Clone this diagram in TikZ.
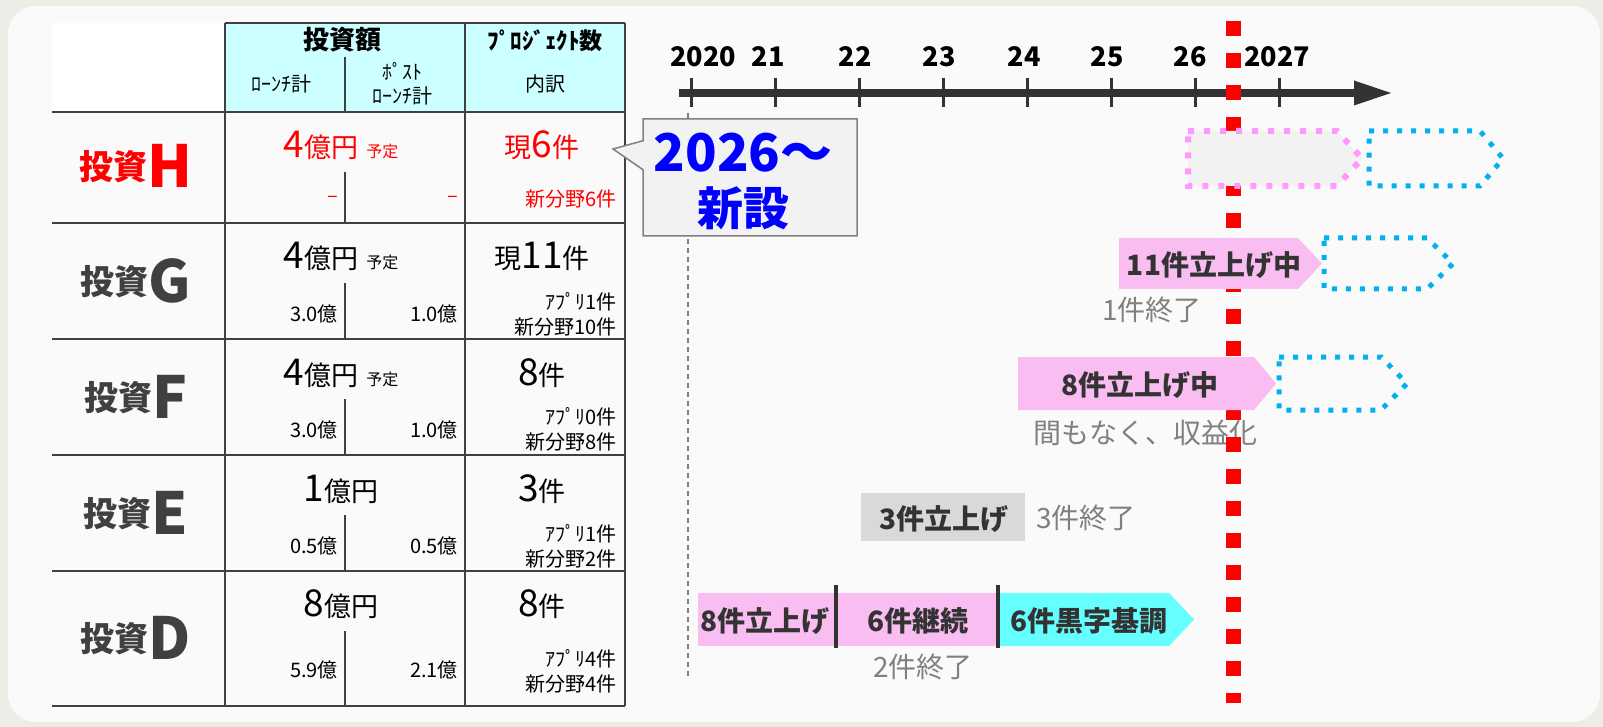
\documentclass[tikz,border=0pt]{standalone}
\usepackage{fontspec}
\setmainfont{Noto Sans CJK JP}
\usepackage{tikz}
\usetikzlibrary{arrows.meta}
\usetikzlibrary{calc}
\usetikzlibrary{shapes.callouts}
\definecolor{outerbg}{HTML}{EDECE6}
\definecolor{panelbg}{HTML}{FAFAFA}
\definecolor{headcyan}{HTML}{CCFFFF}
\definecolor{gridgray}{HTML}{404040}
\definecolor{namegray}{HTML}{404040}
\definecolor{axisgray}{HTML}{333333}
\definecolor{notegray}{HTML}{808080}
\definecolor{barpink}{HTML}{F9BDF1}
\definecolor{dotpink}{HTML}{FF99FF}
\definecolor{dotblue}{HTML}{00B0F0}
\definecolor{barcyan}{HTML}{66FFFF}
\definecolor{bargray}{HTML}{D9D9D9}
\definecolor{callgray}{HTML}{F2F2F2}
\newcommand{\setsz}[1]{\fontsize{#1}{#1}\selectfont}
\newcommand{\rowname}[4]{\node(#1)[rowname,text=#4] at (136,#2) {{\setsz{34}\raisebox{8pt}{投資}}{\setsz{58}#3}}}
\newcommand{\tagbar}[6]{\path[#1] (#2,#5) -- (#3,#5) -- (#4,{(#5+#6)/2}) -- (#3,#6) -- (#2,#6) -- cycle}

\begin{document}
\begin{tikzpicture}[
        x=1pt, y=-1pt,
        every node/.style={inner sep=0pt},
        grid/.style={draw=gridgray,line width=1.5pt},
        rowname/.style={anchor=base,font=\bfseries},
        cell/.style={anchor=base,font=\setsz{20}},
        cellr/.style={cell,anchor=base east},
        head/.style={anchor=base,font=\setsz{20}},
        year/.style={anchor=base,font=\bfseries\setsz{27}},
        tick/.style={draw=axisgray,line width=3pt},
        bartext/.style={font=\bfseries\setsz{28},text=axisgray},
        note/.style={font=\setsz{28},text=notegray},
        pinkbar/.style={fill=barpink},
        pinkdots/.style={draw=dotpink,fill=callgray,line width=6pt,dash pattern=on 6pt off 10pt},
        bluedots/.style={draw=dotblue,line width=5pt,dash pattern=on 5pt off 9pt},
        nowline/.style={draw=red,line width=15pt,dash pattern=on 15pt off 17pt},
        startline/.style={draw=notegray,line width=1.3pt,dash pattern=on 5pt off 4pt}
      ]
      \useasboundingbox (0,0) rectangle (1603,727);
      \fill[outerbg] (0,0) rectangle (1603,727);
      \fill[panelbg,rounded corners=28pt] (8,6) rectangle (1600,722);

      \fill[white] (52,23) rectangle (225,112);
      \fill[headcyan] (225,23) rectangle (625,112);
      \draw[grid] (225,23) -- (625,23);
      \foreach \y in {112,223,339,455,571,706} \draw[grid] (52,\y) -- (625,\y);
      \foreach \x in {225,465,625} \draw[grid] (\x,23) -- (\x,706);
      \draw[grid] (345,57) -- (345,112);
      \foreach \t/\b in {112/223,223/339,339/455,455/571,571/706} \draw[grid] (345,\t+60) -- (345,\b);

      \node (hamount) [anchor=base,font=\bfseries\setsz{26}] at (342,50) {投資額};
      \node (hcount) [anchor=base,font=\bfseries\setsz{23}] at (545,50) {ﾌﾟﾛｼﾞｪｸﾄ数};
      \node (hlaunch) [head] at (281,92) {ﾛｰﾝﾁ計};
      \node (hpost) [head] at (402,80) {ﾎﾟｽﾄ};
      \node (hpostl) [head] at (402,104) {ﾛｰﾝﾁ計};
      \node (hbreak) [head] at (545,92) {内訳};

      \rowname{nameH}{188}{H}{red};
      \node (amtH) [cell,text=red] at (341,158) {{\setsz{37}4}{\setsz{27}億円}\hspace{8pt}{\setsz{16}予定}};
      \node (lnH) [cellr,text=red] at (338,203) {–};
      \node (plH) [cellr,text=red] at (458,203) {–};
      \node (cntH) [cell,text=red] at (542,158) {{\setsz{27}現}{\setsz{37}6}{\setsz{27}件}};
      \node (newH) [cellr,text=red] at (617,207) {新分野6件};

      \rowname{nameG}{302}{G}{namegray};
      \node (amtG) [cell] at (341,269) {{\setsz{37}4}{\setsz{27}億円}\hspace{8pt}{\setsz{16}予定}};
      \node (lnG) [cellr] at (338,321) {3.0億};
      \node (plG) [cellr] at (458,321) {1.0億};
      \node (cntG) [cell] at (542,269) {{\setsz{27}現}{\setsz{37}11}{\setsz{27}件}};
      \node (appG) [cellr] at (617,309) {ｱﾌﾟﾘ1件};
      \node (newG) [cellr] at (617,334) {新分野10件};

      \rowname{nameF}{418}{F}{namegray};
      \node (amtF) [cell] at (341,385) {{\setsz{37}4}{\setsz{27}億円}\hspace{8pt}{\setsz{16}予定}};
      \node (lnF) [cellr] at (338,437) {3.0億};
      \node (plF) [cellr] at (458,437) {1.0億};
      \node (cntF) [cell] at (542,385) {{\setsz{37}8}{\setsz{27}件}};
      \node (appF) [cellr] at (617,424) {ｱﾌﾟﾘ0件};
      \node (newF) [cellr] at (617,449) {新分野8件};

      \rowname{nameE}{534}{E}{namegray};
      \node (amtE) [cell] at (341,501) {{\setsz{37}1}{\setsz{27}億円}};
      \node (lnE) [cellr] at (338,553) {0.5億};
      \node (plE) [cellr] at (458,553) {0.5億};
      \node (cntE) [cell] at (542,501) {{\setsz{37}3}{\setsz{27}件}};
      \node (appE) [cellr] at (617,541) {ｱﾌﾟﾘ1件};
      \node (newE) [cellr] at (617,566) {新分野2件};

      \rowname{nameD}{659}{D}{namegray};
      \node (amtD) [cell] at (341,616) {{\setsz{37}8}{\setsz{27}億円}};
      \node (lnD) [cellr] at (338,677) {5.9億};
      \node (plD) [cellr] at (458,677) {2.1億};
      \node (cntD) [cell] at (542,616) {{\setsz{37}8}{\setsz{27}件}};
      \node (appD) [cellr] at (617,666) {ｱﾌﾟﾘ4件};
      \node (newD) [cellr] at (617,691) {新分野4件};

      \coordinate (starttop) at (688,113);
      \coordinate (startbot) at (688,678);
      \draw[startline] (starttop) -- (startbot);
      \node (call) [rectangle callout,fill=callgray,draw=notegray,line width=1.5pt,minimum width=214pt,minimum height=117pt,
                    callout absolute pointer={(613,149)},callout pointer width=29pt] at (750,177.5) {};
      \node (callyear) [text=blue,font=\bfseries\setsz{52}] at (743,153) {2026～};
      \node (callnew) [text=blue,font=\bfseries\setsz{46}] at (743,208) {新設};

      \coordinate (axstart) at (679,93);
      \coordinate (axend) at (1391,93);
      \draw[axisgray,line width=8pt,-{Triangle[length=37pt,width=25pt,line width=0pt]}] (axstart) -- (axend);
      \foreach \i in {0,...,7} \draw[tick] ({691+84.1*\i},78) -- ({691+84.1*\i},107);
      \foreach \x/\y in {703/2020,768/21,855/22,939/23,1024/24,1107/25,1190/26,1277/2027}
        \node (yr\y) [year] at (\x,67) {\y};

      \node (endG) [note] at (1152,310) {1件終了};
      \node (soonF) [note] at (1145,433) {間もなく、収益化};
      \node (endE) [note] at (1086,518) {3件終了};
      \node (endD) [note] at (923,667) {2件終了};

      \coordinate (nowtop) at (1233,21);
      \coordinate (nowbot) at (1233,703);
      \draw[nowline] (nowtop) -- (nowbot);

      \tagbar{pinkdots}{1188}{1337}{1362}{131}{186};
      \tagbar{bluedots}{1369}{1480}{1503}{131}{186};
      \tagbar{pinkbar}{1119}{1298}{1322}{238}{289};
      \tagbar{bluedots}{1324}{1427}{1453}{238}{289};
      \node (runG) [bartext] at (1214,265) {11件立上げ中};
      \tagbar{pinkbar}{1018}{1254}{1276}{357}{410};
      \tagbar{bluedots}{1279}{1381}{1407}{357}{410};
      \node (runF) [bartext] at (1140,385) {8件立上げ中};
      \fill[bargray] (861,493) rectangle (1025,541);
      \node (runE) [bartext] at (944,519) {3件立上げ};
      \fill[barpink] (698,593) rectangle (998,646);
      \tagbar{fill=barcyan}{998}{1169}{1194}{593}{646};
      \draw[axisgray,line width=4pt] (836,585) -- (836,648);
      \draw[axisgray,line width=4pt] (998,585) -- (998,648);
      \node (runD) [bartext] at (765,621) {8件立上げ};
      \node (keepD) [bartext] at (918,621) {6件継続};
      \node (blackD) [bartext] at (1089,621) {6件黒字基調};
    \end{tikzpicture}
\end{document}
